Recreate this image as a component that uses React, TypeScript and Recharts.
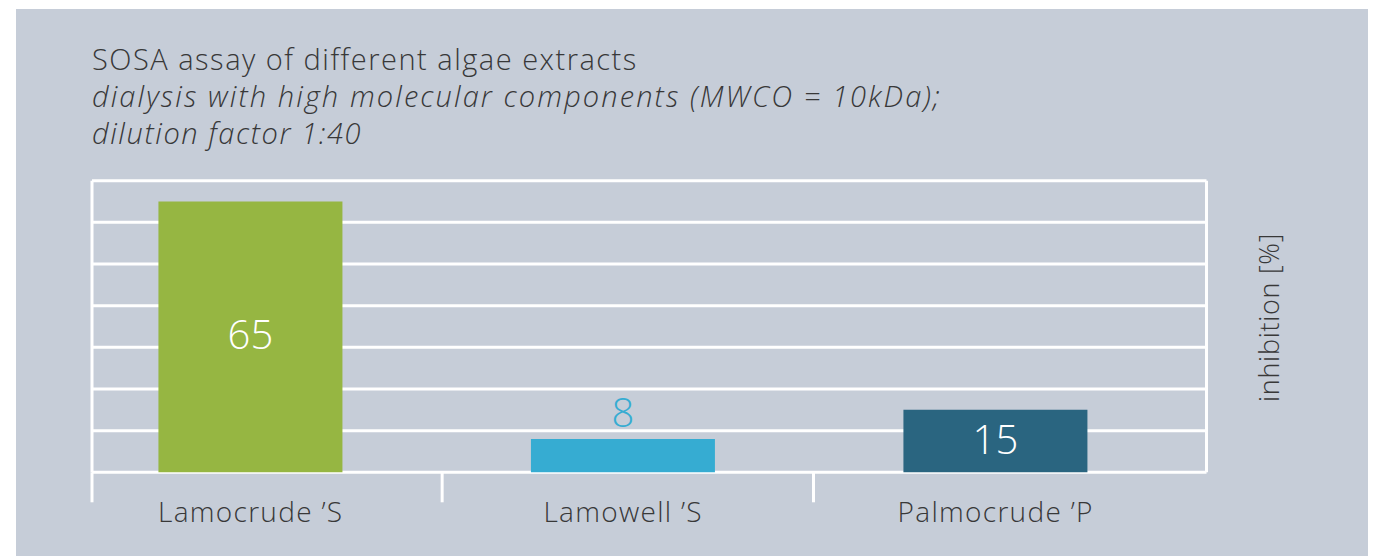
import React from "react";
import { BarChart, Bar, XAxis, YAxis, CartesianGrid, Cell, LabelList } from "recharts";

const categories = ["Lamocrude \u2019S", "Lamowell \u2019S", "Palmocrude \u2019P"];
const inhibition = [65, 8, 15];
const barColors = ["#96b642", "#36acd2", "#2a6580"];
const yTicks = [0, 10, 20, 30, 40, 50, 60, 70];
const titleLines = [
  "SOSA assay of different algae extracts",
  "dialysis with high molecular components (MWCO = 10kDa);",
  "dilution factor 1:40",
];
const yAxisTitle = "inhibition [%]";

const data = categories.map((name, i) => ({ idx: i, name, value: inhibition[i] }));

const Y_DOMAIN: [number, number] = [0, 70];
const X_DOMAIN: [number, number] = [-0.426, 2.566];
const SEP_TICKS = [X_DOMAIN[0], 0.514, 1.511];
const FONT = "'Open Sans', Lato, 'DejaVu Sans', sans-serif";
const TEXT = "#383838";

const ValueLabel = (props: any) => {
  const { x, y, width, height, value, index } = props;
  const cx = x + width / 2;
  if (height > 50) {
    return (
      <text x={cx} y={y + height / 2 - 3} fill="#ffffff" fontSize={40} fontWeight={300} fontFamily={FONT}
        textAnchor="middle" dominantBaseline="central">{value}</text>
    );
  }
  return (
    <text x={cx} y={y - 27} fill={barColors[index]} fontSize={40} fontWeight={300} fontFamily={FONT}
      textAnchor="middle" dominantBaseline="central">{value}</text>
  );
};

const RightTitle = (props: any) => {
  const { viewBox } = props;
  const cx = viewBox.x + viewBox.width / 2;
  const cy = viewBox.y + viewBox.height / 2 - 9;
  return (
    <text x={cx} y={cy} transform={`rotate(-90 ${cx} ${cy})`} textAnchor="middle" dominantBaseline="central"
      fill={TEXT} fontSize={27} fontWeight={300} fontFamily={FONT} letterSpacing={0.7}>{yAxisTitle}</text>
  );
};

const NoTick = () => <g />;

const horizontalLines = ({ yAxis, offset }: any) => {
  if (yAxis && typeof yAxis.scale === "function") return yTicks.map((t) => yAxis.scale(t));
  const [d0, d1] = Y_DOMAIN;
  return yTicks.map((t) => offset.top + offset.height * (1 - (t - d0) / (d1 - d0)));
};

export default function App() {
  return (
    <div style={{ position: "fixed", left: 16, top: 9, width: 1352, height: 547, background: "#c6cdd8", overflow: "hidden" }}>
      <div style={{ position: "absolute", left: 76, top: 31, fontFamily: FONT, fontSize: 29, fontWeight: 300, lineHeight: "37px", color: TEXT, whiteSpace: "nowrap" }}>
        <div style={{ letterSpacing: "1.5px" }}>{titleLines[0]}</div>
        <div style={{ fontStyle: "italic", letterSpacing: "2.1px" }}>{titleLines[1]}</div>
        <div style={{ fontStyle: "italic", letterSpacing: "1.6px" }}>{titleLines[2]}</div>
      </div>
      <div style={{ position: "absolute", left: 0, top: 0 }}>
        <BarChart width={1352} height={547} data={data} margin={{ top: 171.7, right: 38.5, bottom: 13.7, left: 76 }}>
          <CartesianGrid stroke="#ffffff" strokeWidth={3}
            horizontalCoordinatesGenerator={horizontalLines}
            verticalCoordinatesGenerator={({ offset }: any) => [offset.left, offset.left + offset.width]} />
          <XAxis type="number" dataKey="idx" domain={X_DOMAIN} ticks={SEP_TICKS} interval={0}
            axisLine={false} tick={<NoTick />} tickLine={{ stroke: "#ffffff", strokeWidth: 3 }} tickSize={30} height={30}
            allowDataOverflow />
          <XAxis xAxisId="lab" type="number" dataKey="idx" domain={X_DOMAIN} ticks={[0, 1, 2]} interval={0}
            axisLine={false} tickLine={false} tickSize={0} tickMargin={0} height={40} allowDataOverflow
            tickFormatter={(v: number) => categories[v]}
            tick={{ fill: TEXT, fontSize: 28, fontWeight: 300, fontFamily: FONT, letterSpacing: 1.3 }} />
          <YAxis domain={Y_DOMAIN} ticks={yTicks} width={0} tick={<NoTick />} axisLine={false} tickLine={false} />
          <YAxis yAxisId="r" orientation="right" domain={Y_DOMAIN} ticks={yTicks} width={123} tick={false}
            axisLine={false} tickLine={false} label={<RightTitle />} />
          <Bar dataKey="value" barSize={184} isAnimationActive={false}>
            {data.map((d, i) => (
              <Cell key={d.name} fill={barColors[i]} />
            ))}
            <LabelList dataKey="value" content={<ValueLabel />} />
          </Bar>
        </BarChart>
      </div>
    </div>
  );
}
